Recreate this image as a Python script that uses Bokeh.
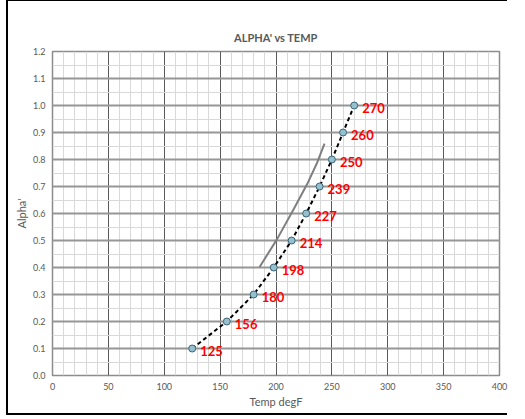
from bokeh.plotting import figure
from bokeh.models import ColumnDataSource, FixedTicker, PrintfTickFormatter, Range1d
from bokeh.core.properties import value
from bokeh.embed import file_html
from bokeh.resources import INLINE

# Data
temps = [125, 156, 180, 198, 214, 227, 239, 250, 260, 270]
alphas = [0.1, 0.2, 0.3, 0.4, 0.5, 0.6, 0.7, 0.8, 0.9, 1.0]
labels = [str(t) for t in temps]

ref_temp = [185.2, 201.1, 215.9, 227.9, 236.9, 243.4]
ref_alpha = [0.401, 0.506, 0.617, 0.709, 0.789, 0.859]

x_ticks = [0, 50, 100, 150, 200, 250, 300, 350, 400]
x_minor = [v for v in range(0, 401, 10) if v % 50 != 0]
y_ticks = [0.0, 0.1, 0.2, 0.3, 0.4, 0.5, 0.6, 0.7, 0.8, 0.9, 1.0, 1.1, 1.2]
y_minor = [0.05, 0.15, 0.25, 0.35, 0.45, 0.55, 0.65, 0.75, 0.85, 0.95, 1.05, 1.15]

FONT = "Lato"
TXT = "#595959"

p = figure(width=501, height=403,
           output_backend="svg", toolbar_location=None,
           x_range=Range1d(0, 400), y_range=Range1d(0, 1.2),
           min_border_left=44, min_border_right=10, min_border_top=44, min_border_bottom=34,
           title="ALPHA' vs TEMP")
p.border_fill_color = None
p.background_fill_color = "white"
p.styles = {"margin-left": "8px", "margin-top": "7px",
            "box-shadow": "-2px 0 0 0 #000, 0 -6px 0 0 #fff, 0 3px 0 0 #fff, "
                          "-2px -8px 0 0 #000, -2px 5px 0 0 #000"}

p.title.align = "center"
p.title.text_font = FONT
p.title.text_font_size = "11px"
p.title.text_color = TXT
p.title.text_font_style = "bold"
p.title.standoff = 16

xt = FixedTicker(ticks=x_ticks, minor_ticks=x_minor)
yt = FixedTicker(ticks=y_ticks, minor_ticks=y_minor)
p.xaxis.ticker = xt
p.xgrid.ticker = xt
p.yaxis.ticker = yt
p.ygrid.ticker = yt
p.xaxis.formatter = PrintfTickFormatter(format="%d")
p.yaxis.formatter = PrintfTickFormatter(format="%.1f")

for ax in (p.xaxis[0], p.yaxis[0]):
    ax.axis_line_color = None
    ax.major_tick_line_color = None
    ax.minor_tick_line_color = None
    ax.major_tick_out = 0
    ax.minor_tick_out = 0
    ax.major_label_text_font = FONT
    ax.major_label_text_font_size = "9px"
    ax.major_label_text_color = TXT
    ax.axis_label_text_font = FONT
    ax.axis_label_text_font_size = "11px"
    ax.axis_label_text_color = TXT
    ax.axis_label_text_font_style = "normal"

p.xaxis.axis_label = "Temp degF"
p.yaxis.axis_label = "Alpha'"
p.xaxis.major_label_standoff = 7
p.xaxis.axis_label_standoff = 2
p.yaxis.major_label_standoff = 7
p.yaxis.axis_label_standoff = 2

p.xgrid.grid_line_color = "#595959"
p.xgrid.grid_line_width = 1
p.xgrid.minor_grid_line_color = "#d9d9d9"
p.ygrid.grid_line_color = "#969696"
p.ygrid.grid_line_width = 2
p.ygrid.minor_grid_line_color = "#d9d9d9"

p.outline_line_color = "#8c8c8c"
p.outline_line_width = 1.5

src = ColumnDataSource(dict(x=temps, y=alphas, t=labels))

p.line(ref_temp, ref_alpha, line_color="#7f7f7f", line_width=2)
p.line("x", "y", source=src, line_color="black", line_width=2, line_dash="4 3")
p.scatter("x", "y", source=src, size=7, fill_color="#95c0cd", line_color="#3e6478", line_width=1)
p.text("x", "y", text="t", source=src, x_offset=8, y_offset=2,
       text_font=value(FONT), text_font_size="13px", text_font_style="bold",
       text_color="#ff0000", text_baseline="middle", text_align="left")

open("out.html", "w").write(file_html(p, INLINE))
